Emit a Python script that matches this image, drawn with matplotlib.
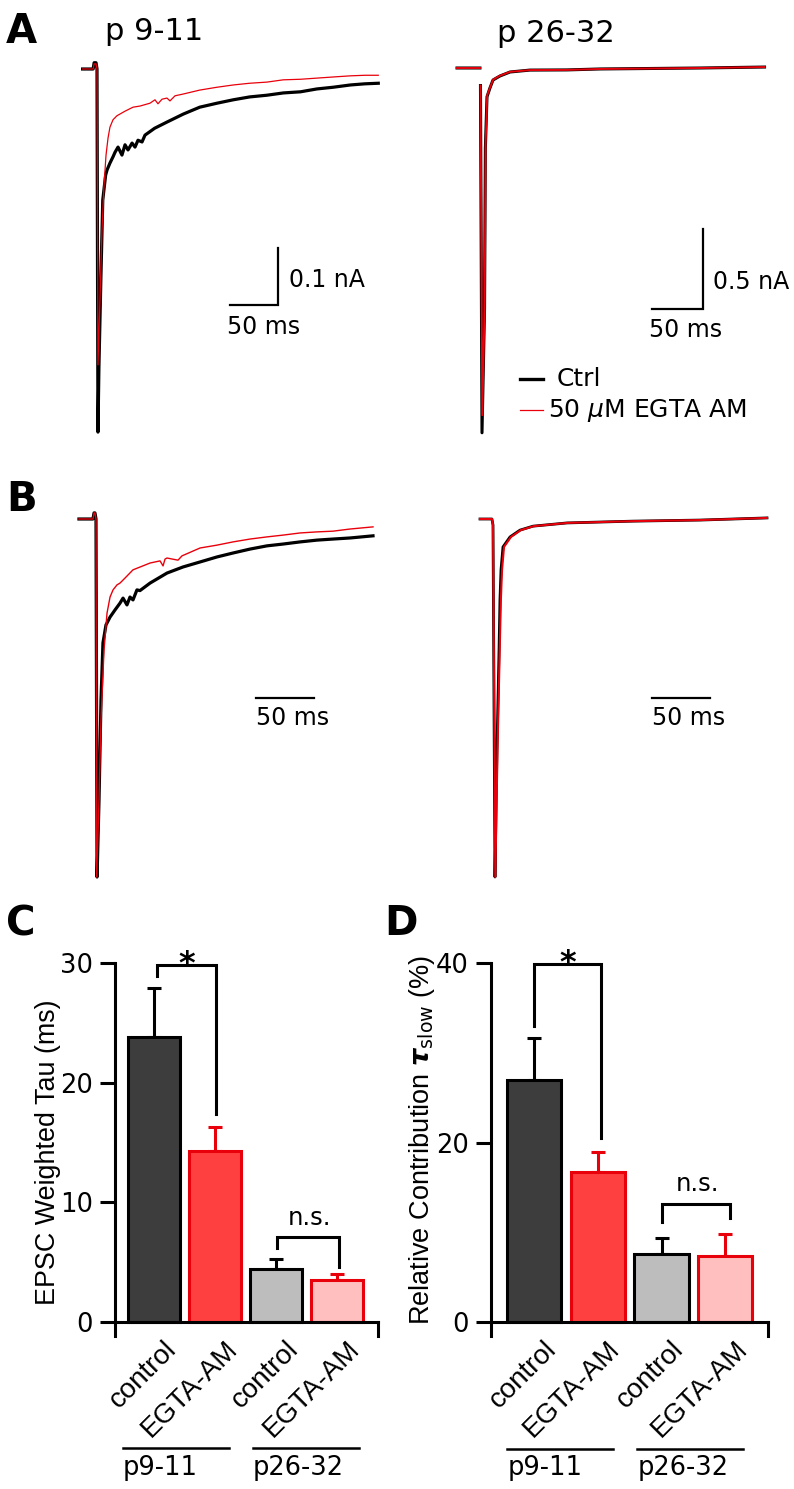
import numpy as np
import matplotlib
matplotlib.use('Agg')
import matplotlib.pyplot as plt
from matplotlib.lines import Line2D
from matplotlib.transforms import ScaledTranslation

plt.rcParams['font.family'] = ['DejaVu Sans']
plt.rcParams['mathtext.fontset'] = 'dejavusans'

W, H = 794, 1489

# ---- EPSC traces (time in ms from stimulus, current in nA or normalised) ----
# A, p9-11
a1_ctrl_t = [-15, -4, -3, -1, 0, 1, 2, 4, 6, 9, 10.5, 13.5, 16.7, 18.8, 21.9, 26, 29.2, 32.3, 36.5, 39.6,
             42.7, 46.9, 50, 60, 73, 90, 107, 125, 142, 159, 177, 194, 212, 229, 246, 264, 279, 293]
a1_ctrl_i = [0, 0, 0.011, 0.011, 0, -0.637, -0.523, -0.370, -0.230, -0.186, -0.177, -0.165, -0.154, -0.146,
             -0.137, -0.151, -0.133, -0.142, -0.130, -0.137, -0.125, -0.128, -0.116, -0.104, -0.093, -0.079,
             -0.067, -0.060, -0.054, -0.049, -0.046, -0.042, -0.040, -0.035, -0.032, -0.028, -0.026, -0.025]
a1_egta_t = [-15, -4, -3, -1, 0, 1, 3.1, 5.2, 7.3, 9.4, 11.5, 13.5, 16.7, 20.8, 29.2, 37.5, 44.8, 55.2, 60.4,
             63.5, 67.7, 72.9, 76, 81.3, 89.6, 107, 125, 142, 159, 177, 194, 212, 229, 246, 264, 279, 293]
a1_egta_i = [0, 0, 0.009, 0.009, 0, -0.519, -0.405, -0.282, -0.204, -0.151, -0.121, -0.102, -0.089, -0.082,
             -0.074, -0.067, -0.065, -0.060, -0.054, -0.061, -0.053, -0.051, -0.056, -0.047, -0.044, -0.037,
             -0.032, -0.028, -0.025, -0.023, -0.019, -0.018, -0.016, -0.014, -0.012, -0.011, -0.011]
# A, p26-32
a2_ctrl_t = [-24.5, -2, np.nan, -1.5, 0, 2.5, 3.3, 4.9, 7.8, 10.8, 17.6, 27.5, 47, 83, 116, 150, 214, 277]
a2_ctrl_i = [0, 0, np.nan, -0.11, -2.28, -1.5, -0.5, -0.18, -0.125, -0.075, -0.05, -0.025, -0.013, -0.012,
             -0.006, -0.004, 0, 0.006]
a2_egta_t = [-24.5, -2, np.nan, -1.5, 0.3, 2.7, 3.5, 5.1, 8, 11, 17.6, 27.5, 47, 83, 116, 150, 214, 277]
a2_egta_i = [0, 0, np.nan, -0.11, -2.17, -1.45, -0.48, -0.17, -0.12, -0.072, -0.048, -0.024, -0.013, -0.012,
             -0.006, -0.004, 0, 0.006]
# B, normalised, p9-11
b1_ctrl_t = [-14.7, -2.6, -1.7, -0.9, 0, 0.9, 2.6, 4.3, 6.0, 8.6, 12.1, 16.4, 20.7, 23.3, 26.7, 29.3, 31.9,
             35.3, 37.9, 46.6, 61.2, 75, 89.7, 104.3, 118.1, 132.8, 147.4, 161.2, 175.9, 190.5, 204.3, 219, 238.8]
b1_ctrl_i = [0, 0, 0.017, 0.017, 0, -1.0, -0.785, -0.506, -0.346, -0.296, -0.274, -0.254, -0.235, -0.221,
             -0.240, -0.218, -0.226, -0.198, -0.200, -0.179, -0.151, -0.134, -0.120, -0.106, -0.095, -0.084,
             -0.075, -0.070, -0.064, -0.059, -0.056, -0.053, -0.047]
b1_egta_t = [-14.7, -2.6, -1.7, -0.9, 0, 0.5, 2.6, 4.3, 6.9, 9.5, 12.1, 14.7, 18.1, 20.7, 25, 31.9, 46.6, 55.2,
             57.8, 59.5, 61.2, 70.7, 74.1, 89.7, 104.3, 118.1, 132.8, 147.4, 161.2, 175.9, 190.5, 204.3, 219, 238.8]
b1_egta_i = [0, 0, 0.017, 0.017, 0, -1.0, -0.785, -0.561, -0.366, -0.263, -0.218, -0.198, -0.184, -0.179,
             -0.165, -0.142, -0.123, -0.117, -0.131, -0.112, -0.109, -0.115, -0.103, -0.081, -0.073, -0.064,
             -0.056, -0.050, -0.045, -0.039, -0.036, -0.034, -0.028, -0.022]
# B, normalised, p26-32
b2_ctrl_t = [-11.2, -0.9, 0, 1.7, 3.4, 5.2, 6.0, 6.9, 8.6, 14.7, 23.3, 34.5, 63.8, 120.7, 178.4, 236.2]
b2_ctrl_i = [0, 0, -0.017, -1.0, -0.645, -0.366, -0.226, -0.142, -0.078, -0.050, -0.031, -0.020, -0.011,
             -0.006, -0.003, 0.003]
b2_egta_t = [-11.2, -0.9, 0, 2.0, 3.9, 5.8, 6.8, 7.8, 9.5, 15.5, 24, 35, 63.8, 120.7, 178.4, 236.2]
b2_egta_i = b2_ctrl_i

# ---- bar data ----
conditions = ['control', 'EGTA-AM', 'control', 'EGTA-AM']
ages = ['p9-11', 'p26-32']
tau_mean = [23.8, 14.3, 4.4, 3.5]
tau_sem = [4.1, 2.0, 0.8, 0.5]
slow_mean = [27.0, 16.7, 7.6, 7.4]
slow_sem = [4.6, 2.3, 1.8, 2.4]

face = ['#3d3d3d', '#ff4040', '#bdbdbd', '#ffbfbf']
edge = ['black', '#e8000b', 'black', '#e8000b']

fig = plt.figure(figsize=(W / 100, H / 100), dpi=100)


def px_axes(x0, y0, x1, y1):
    return fig.add_axes([x0 / W, 1 - y1 / H, (x1 - x0) / W, (y1 - y0) / H])


def ftext(x, y, s, **kw):
    fig.text(x / W, 1 - y / H, s, **kw)


def trace_axes(box, origin, sx, sy):
    # sx, sy: pixels per data unit
    x0, y0, x1, y1 = box
    ox, oy = origin
    ax = px_axes(*box)
    ax.set_xlim((x0 - ox) / sx, (x1 - ox) / sx)
    ax.set_ylim((oy - y1) / sy, (oy - y0) / sy)
    ax.axis('off')
    return ax


def scalebar(ax, tc, ic, tlen, ilen=None):
    if ilen:
        ax.plot([tc - tlen, tc, tc], [ic, ic, ic + ilen], color='black', lw=1.6, solid_joinstyle='miter')
    else:
        ax.plot([tc, tc + tlen], [ic, ic], color='black', lw=1.6)


# panel A
ax = trace_axes((60, 40, 400, 445), (97, 69), 0.96, 570)
ax.plot(a1_ctrl_t, a1_ctrl_i, color='black', lw=2.3)
ax.plot(a1_egta_t, a1_egta_i, color='#e8000b', lw=0.9)
scalebar(ax, 188.5, -0.414, 50, 0.1)
ax.text(200, -0.37, '0.1 nA', fontsize=17, va='center', ha='left')
ax.text(173.5, -0.453, '50 ms', fontsize=17, va='center', ha='center')

ax = trace_axes((440, 40, 790, 445), (482, 68), 1.02, 160)
ax.plot(a2_ctrl_t, a2_ctrl_i, color='black', lw=2.2)
ax.plot(a2_egta_t, a2_egta_i, color='#e8000b', lw=1.4)
scalebar(ax, 216.7, -1.506, 50, 0.5)
ax.text(226.5, -1.3375, '0.5 nA', fontsize=17, va='center', ha='left')
ax.text(199.5, -1.6375, '50 ms', fontsize=17, va='center', ha='center')

# panel B
ax = trace_axes((60, 490, 400, 890), (96, 519), 1.16, 358)
ax.plot(b1_ctrl_t, b1_ctrl_i, color='black', lw=2.3)
ax.plot(b1_egta_t, b1_egta_i, color='#e8000b', lw=1.0)
scalebar(ax, 137.9, -0.5, 50)
ax.text(169.4, -0.556, '50 ms', fontsize=17, va='center', ha='center')

ax = trace_axes((440, 490, 790, 890), (493, 519), 1.16, 358)
ax.plot(b2_ctrl_t, b2_ctrl_i, color='black', lw=2.0)
ax.plot(b2_egta_t, b2_egta_i, color='#e8000b', lw=1.5)
scalebar(ax, 137.0, -0.5, 50)
ax.text(168.5, -0.556, '50 ms', fontsize=17, va='center', ha='center')

# legend (panel A right)
fig.add_artist(Line2D([520 / W, 543 / W], [1 - 379 / H] * 2, color='black', lw=2.4))
fig.add_artist(Line2D([520 / W, 543 / W], [1 - 410 / H] * 2, color='#e8000b', lw=0.9))
ftext(557, 379, 'Ctrl', fontsize=18, va='center')
ftext(548, 410, r'50 $\mu$M EGTA AM', fontsize=18, va='center')

# titles and panel letters
ftext(105, 40, 'p 9-11', fontsize=22, va='baseline')
ftext(497, 42, 'p 26-32', fontsize=22, va='baseline')
for lab, x, y in [('A', 6, 43), ('B', 6, 511), ('C', 6, 935), ('D', 384, 935)]:
    ftext(x, y, lab, fontsize=29, fontweight='bold', va='baseline')


def bar_panel(box, xlim, ylim, yticks, means, sems):
    ax = px_axes(*box)
    x = np.arange(len(means))
    ax.bar(x, means, width=0.85, color=face, edgecolor=edge, linewidth=2.2, zorder=2)
    for i in range(len(means)):
        ax.errorbar(x[i], means[i], yerr=[[0], [sems[i]]], fmt='none', ecolor=edge[i],
                    elinewidth=2.2, capsize=5, capthick=2.2, zorder=1)
    ax.set_xlim(*xlim)
    ax.set_ylim(*ylim)
    ax.spines['top'].set_visible(False)
    ax.spines['bottom'].set_position(('data', 0))
    ax.spines['right'].set_bounds(ylim[0], 0)
    for s in ['left', 'bottom', 'right']:
        ax.spines[s].set_linewidth(2.2)
    ax.set_yticks(yticks)
    ax.tick_params(axis='y', direction='out', length=11, width=2.2, labelsize=18.5, pad=5)
    ax.set_xticks([])
    off = ScaledTranslation(9 / 100, -14 / 100, fig.dpi_scale_trans)
    for i, c in enumerate(conditions):
        ax.text(x[i], 0, c, rotation=45, rotation_mode='anchor', ha='right', va='top',
                fontsize=20, family='Liberation Sans', transform=ax.transData + off)
    return ax


def bracket(ax, x0, x1, ytop, yl, yr, label, lx, ly, **kw):
    ax.plot([x0, x0, x1, x1], [yl, ytop, ytop, yr], color='black', lw=2.2, clip_on=False,
            solid_joinstyle='miter')
    ax.text(lx, ly, label, ha='center', va='baseline', **kw)


def age_lines(ax, spans, yline, ytext):
    for (a, b), lab in zip(spans, ages):
        ax.plot([a, b], [yline, yline], color='black', lw=1.8, clip_on=False)
        ax.text(a, ytext, lab, ha='left', va='baseline', fontsize=18.5)


# panel C
ax = bar_panel((115, 963, 378, 1336), (-0.64, 3.67), (-1.2, 30), [0, 10, 20, 30], tau_mean, tau_sem)
bracket(ax, 0.05, 1.02, 29.8, 28.9, 17.4, '*', 0.54, 29.2, fontsize=23, fontweight='bold')
bracket(ax, 2.02, 3.03, 7.1, 6.2, 4.6, 'n.s.', 2.55, 8.1, fontsize=17.5)
age_lines(ax, [(-0.51, 1.23), (1.62, 3.36)], -10.6, -12.8)
ftext(48, 1152, 'EPSC Weighted Tau (ms)', fontsize=19.4, family='Liberation Sans',
      rotation=90, ha='center', va='center')

# panel D
ax = bar_panel((491, 963, 768, 1336), (-0.675, 3.67), (-1.55, 40), [0, 20, 40], slow_mean, slow_sem)
bracket(ax, 0.0, 1.05, 39.9, 33.0, 20.5, '*', 0.53, 39.0, fontsize=23, fontweight='bold')
bracket(ax, 2.01, 3.08, 13.1, 11.1, 11.6, 'n.s.', 2.56, 14.6, fontsize=17.5)
age_lines(ax, [(-0.42, 1.24), (1.62, 3.28)], -14.1, -17.0)
ftext(422, 1140, r'Relative Contribution $\boldsymbol{\tau}_{\mathrm{slow}}$ (%)', fontsize=19.5,
      family='Liberation Sans', rotation=90, ha='center', va='center')

fig.savefig('out.png', dpi=100)
